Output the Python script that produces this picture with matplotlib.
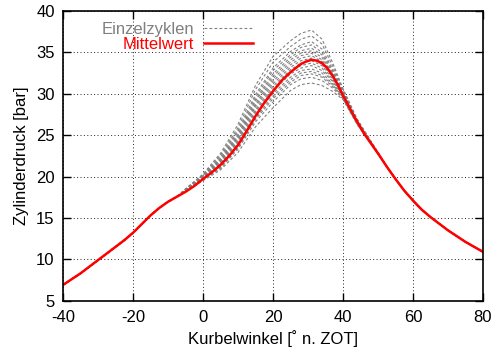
import matplotlib
matplotlib.use("Agg")
import matplotlib.pyplot as plt
import numpy as np

plt.rcParams['font.family'] = ['Liberation Sans', 'DejaVu Sans']
plt.rcParams['axes.unicode_minus'] = False

# mean cylinder pressure
mean_angle = [-40, -37.5, -35, -32.5, -30, -27.5, -25, -22.5, -20, -17.5, -15,
              -12.5, -10, -7.5, -5, -2.5, 0, 2.5, 5, 7.5, 10, 12.5, 15, 17.5,
              20, 22.5, 25, 26.5, 28, 29.5, 31, 32.5, 34, 35.5, 37, 38.5, 40,
              41.5, 43, 44.5, 46, 48, 50, 52.5, 55, 57.5, 60, 62.5, 65, 67.5,
              70, 72.5, 75, 77.5, 80]
mean_p = [6.9, 7.6, 8.3, 9.1, 9.9, 10.7, 11.5, 12.3, 13.2, 14.25, 15.3,
          16.2, 16.95, 17.55, 18.15, 18.85, 19.7, 20.5, 21.4, 22.5, 23.8, 25.5,
          27.3, 28.9, 30.3, 31.6, 32.6, 33.1, 33.6, 33.9, 34.1, 34.0, 33.7,
          33.1, 32.2, 31.1, 29.8, 28.6, 27.4, 26.3, 25.2, 24.0, 22.8, 21.2,
          19.7, 18.3, 17.1, 16.0, 15.1, 14.3, 13.5, 12.8, 12.1, 11.5, 10.9]

# single cycles in the region where they spread out
cyc_angle = [-5, 0, 5, 10, 15, 20, 25, 28, 31, 34, 37, 40, 44, 50]
cycles = [
    [18.5, 20.3, 22.8, 26.3, 31.0, 34.5, 36.4, 37.3, 37.7, 36.6, 33.8, 30.6, 27.0, 22.9],
    [18.5, 20.2, 22.6, 25.9, 30.5, 33.8, 35.7, 36.6, 37.0, 36.0, 33.4, 30.5, 26.9, 22.9],
    [18.4, 20.1, 22.4, 25.6, 29.9, 33.1, 35.1, 35.9, 36.3, 35.4, 33.0, 30.3, 26.8, 22.9],
    [18.4, 20.1, 22.2, 25.4, 29.6, 32.8, 34.7, 35.6, 35.9, 35.0, 32.8, 30.2, 26.8, 22.8],
    [18.4, 20.0, 22.1, 25.1, 29.3, 32.4, 34.4, 35.2, 35.5, 34.7, 32.6, 30.2, 26.8, 22.8],
    [18.4, 20.0, 22.0, 25.0, 29.1, 32.1, 34.1, 34.9, 35.2, 34.4, 32.4, 30.1, 26.7, 22.8],
    [18.4, 19.9, 21.9, 24.8, 28.8, 31.8, 33.8, 34.6, 34.9, 34.1, 32.3, 30.0, 26.7, 22.8],
    [18.4, 19.9, 21.8, 24.7, 28.6, 31.5, 33.5, 34.3, 34.6, 33.9, 32.1, 30.0, 26.7, 22.8],
    [18.3, 19.9, 21.7, 24.5, 28.4, 31.2, 33.2, 34.0, 34.3, 33.6, 32.0, 29.9, 26.6, 22.8],
    [18.3, 19.8, 21.6, 24.3, 28.1, 30.9, 32.9, 33.7, 34.0, 33.4, 31.8, 29.8, 26.6, 22.8],
    [18.3, 19.8, 21.5, 24.2, 27.9, 30.6, 32.7, 33.4, 33.7, 33.1, 31.6, 29.8, 26.6, 22.8],
    [18.3, 19.8, 21.5, 24.0, 27.7, 30.3, 32.4, 33.1, 33.4, 32.8, 31.5, 29.7, 26.5, 22.8],
    [18.3, 19.7, 21.3, 23.8, 27.4, 30.0, 32.0, 32.8, 33.0, 32.5, 31.2, 29.6, 26.5, 22.8],
    [18.3, 19.7, 21.2, 23.6, 27.1, 29.7, 31.7, 32.5, 32.7, 32.2, 31.1, 29.6, 26.5, 22.7],
    [18.3, 19.6, 21.1, 23.5, 26.9, 29.4, 31.4, 32.2, 32.4, 32.0, 30.9, 29.5, 26.4, 22.7],
    [18.2, 19.6, 21.0, 23.3, 26.6, 29.0, 31.1, 31.8, 32.0, 31.6, 30.7, 29.4, 26.4, 22.7],
    [18.2, 19.5, 20.8, 22.9, 26.0, 28.3, 30.4, 31.1, 31.3, 31.0, 30.3, 29.3, 26.3, 22.7],
]

x_ticks = [-40, -20, 0, 20, 40, 60, 80]
y_ticks = [5, 10, 15, 20, 25, 30, 35, 40]

fig = plt.figure(figsize=(4.94, 3.54), dpi=100)
ax = fig.add_axes([0.1275, 0.1506, 0.8502, 0.8184])

# outside the spread region the cycles follow the mean curve
pre_a = [a for a in mean_angle if a < cyc_angle[0]]
pre_p = mean_p[:len(pre_a)]
post_a = [a for a in mean_angle if a > cyc_angle[-1]]
post_p = mean_p[len(mean_angle) - len(post_a):]

for i, row in enumerate(cycles):
    ax.plot(pre_a + cyc_angle + post_a, pre_p + row + post_p,
            color='#808080', lw=0.8, dashes=(2.5, 2.0),
            label='Einzelzyklen' if i == 0 else None)

ax.plot(mean_angle, mean_p, color='red', lw=1.8, label='Mittelwert')

ax.set_xlim(-40, 80)
ax.set_ylim(5, 40)
ax.set_xticks(x_ticks)
ax.set_yticks(y_ticks)
ax.grid(True, color='#222222', linestyle=(0, (1, 2.5)), linewidth=0.7)
ax.tick_params(direction='in', length=6, width=1, top=True, right=True,
               labelsize=12, colors='black')
ax.tick_params(axis='x', pad=7)
ax.tick_params(axis='y', pad=6)
for s in ax.spines.values():
    s.set_linewidth(1.2)

ax.set_xlabel('Kurbelwinkel [˚ n. ZOT]', fontsize=12, labelpad=3)
ax.set_ylabel('Zylinderdruck [bar]', fontsize=12, labelpad=5)

leg = ax.legend(loc='upper right', bbox_to_anchor=(0.452, 0.962), frameon=False,
                markerfirst=False, fontsize=12, handlelength=2.9,
                handletextpad=0.6, labelspacing=0.0, borderaxespad=0.0,
                borderpad=0.0, labelcolor='linecolor')

fig.savefig('out.png', dpi=100)
